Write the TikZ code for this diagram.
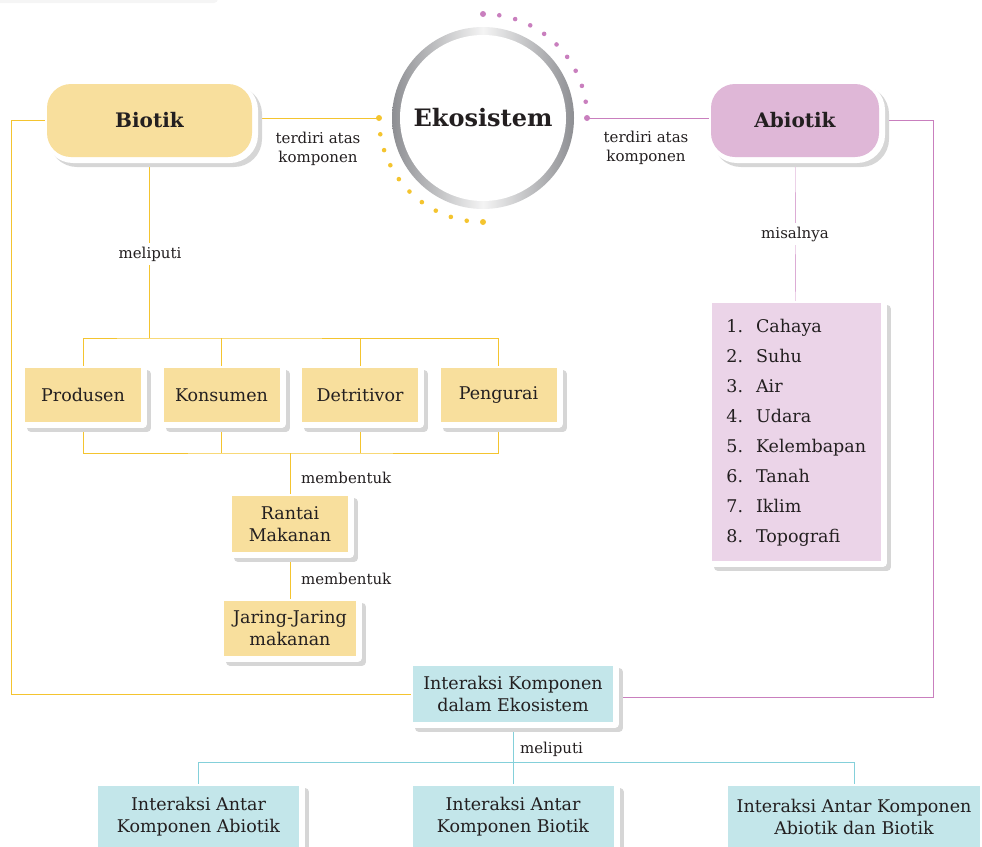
\documentclass[tikz,border=0pt]{standalone}
\usepackage{fontspec}
\setmainfont{DejaVu Serif}
\usetikzlibrary{calc,backgrounds}

\definecolor{ink}{HTML}{231F20}
\definecolor{bioFill}{HTML}{F8DF9D}
\definecolor{bioLine}{HTML}{F4C42F}
\definecolor{abioFill}{HTML}{DFB7D7}
\definecolor{listFill}{HTML}{EBD4E8}
\definecolor{abioLine}{HTML}{C97FBE}
\definecolor{intFill}{HTML}{C3E6EA}
\definecolor{intLine}{HTML}{84D0DA}
\definecolor{cardShade}{HTML}{D6D6D6}
\definecolor{ringDark}{HTML}{8E8F93}
\definecolor{ringLight}{HTML}{F4F4F4}

\begin{document}
\begin{tikzpicture}[x=1pt, y=-1pt, line width=1.5pt, line cap=round, line join=round,
  card/.style={preaction={draw=cardShade, fill=cardShade, line width=8pt, transform canvas={xshift=6pt, yshift=-6pt}},
               preaction={draw=white, fill=white, line width=8pt, transform canvas={xshift=2pt, yshift=-2pt}}},
  head/.style={card, rounded corners=24pt, minimum height=73pt, text=ink, font=\fontsize{20}{24}\selectfont\bfseries},
  box/.style={card, minimum height=54pt, inner sep=2pt, align=center, text=ink, font=\fontsize{17.5}{22}\selectfont},
  lbl/.style={align=center, text=ink, font=\fontsize{15}{19}\selectfont}]

  %% ════ 顶部残影 ════
  \fill[black!4, rounded corners=4pt] (-10,-10) rectangle (218,3);

  %% ════ 中心圆环 + 点 ════
  \coordinate (ctr) at (483,118);
  \shade[left color=ringDark, right color=ringDark, middle color=ringLight] (ctr) circle (91);
  \node[circle, fill=white, minimum size=166pt, inner sep=0pt, text=ink,
        font=\fontsize{24}{28}\selectfont\bfseries] (eko) at (ctr) {Ekosistem};
  \foreach \a in {99,108,...,171} \fill[bioLine] ($(ctr)+(\a:104)$) circle (2.3);
  \foreach \a in {279,288,...,351} \fill[abioLine] ($(ctr)+(\a:104)$) circle (2.3);
  \coordinate (ydot) at ($(ctr)+(180:104)$);
  \coordinate (pdot) at ($(ctr)+(0:104)$);
  \fill[bioLine] (ydot) circle (3) ($(ctr)+(90:104)$) circle (3);
  \fill[abioLine] (pdot) circle (3) ($(ctr)+(270:104)$) circle (3);

  %% ════ 组件框 ════
  \node[head, fill=bioFill, minimum width=205pt] (bio) at (149.5,120.5) {Biotik};     % box(47,84,205,73)
  \node[head, fill=abioFill, minimum width=168pt] (abio) at (795,120.5) {Abiotik};    % box(711,84,168,73)

  \node[box, fill=bioFill, minimum width=116pt] (prod) at (83,395) {Produsen};
  \node[box, fill=bioFill, minimum width=116pt] (kons) at (221.5,395) {Konsumen};
  \node[box, fill=bioFill, minimum width=116pt] (detr) at (360,395) {Detritivor};
  \node[box, fill=bioFill, minimum width=116pt] (peng) at (498.5,395) {Pengurai};
  \node[box, fill=bioFill, minimum width=116pt, minimum height=56pt] (rant) at (290,524) {Rantai\\Makanan};
  \node[box, fill=bioFill, minimum width=132pt, minimum height=55pt] (jar) at (290,628) {Jaring-Jaring\\makanan};

  \node[card, fill=listFill, anchor=north west, minimum width=169pt, inner ysep=9pt, text=ink,
        font=\fontsize{17.5}{21}\selectfont] (alist) at (711,302)
       {\renewcommand{\arraystretch}{1.43}%
        \begin{tabular}{@{}l@{\hspace{13pt}}l@{}}
          1. & Cahaya\\ 2. & Suhu\\ 3. & Air\\ 4. & Udara\\
          5. & Kelembapan\\ 6. & Tanah\\ 7. & Iklim\\ 8. & Topografi
        \end{tabular}};

  \node[box, fill=intFill, minimum width=200pt, minimum height=56pt] (inter) at (513,694) {Interaksi Komponen\\dalam Ekosistem};
  \node[box, fill=intFill, minimum width=201pt, minimum height=62pt] (bAb) at (198.5,817) {Interaksi Antar\\Komponen Abiotik};
  \node[box, fill=intFill, minimum width=201pt, minimum height=62pt] (bBi) at (513,817) {Interaksi Antar\\Komponen Biotik};
  \node[box, fill=intFill, minimum width=252pt, minimum height=62pt] (bAB) at (854,817) {Interaksi Antar Komponen\\Abiotik dan Biotik};

  %% ════ 标签 ════
  \node[lbl] (tBio) at (318,149) {terdiri atas\\komponen};
  \node[lbl] (tAbio) at (646,148) {terdiri atas\\komponen};
  \node[lbl, fill=white] (mBio) at (150,254) {meliputi};
  \node[lbl, fill=white] (misal) at (795,234) {misalnya};
  \node[lbl, anchor=west] (mb1) at (297,478) {membentuk};
  \node[lbl, anchor=west] (mb2) at (297,579) {membentuk};
  \node[lbl, anchor=west] (mInt) at (516,749) {meliputi};

  %% ════ 连线（背景层）════
  \coordinate (bj) at (149.5,338);
  \coordinate (mj) at (290,453);
  \coordinate (lc) at (11,694);
  \coordinate (rc) at (933,697);
  \coordinate (cj) at (513,762);
  \begin{scope}[on background layer]
    \draw[bioLine] (bio |- ydot) -- (ydot);
    \draw[bioLine] (bio) -- (bj);
    \draw[bioLine] (prod) |- (bj) -| (peng);
    \draw[bioLine] (kons) -- (kons |- bj);
    \draw[bioLine] (detr) -- (detr |- bj);
    \draw[bioLine] (prod) |- (mj) -| (peng);
    \draw[bioLine] (kons) -- (kons |- mj);
    \draw[bioLine] (detr) -- (detr |- mj);
    \draw[bioLine] (mj) -- (rant);
    \draw[bioLine] (rant) -- (jar);
    \draw[bioLine] (bio) -| (lc) -- (inter);
    \draw[abioLine] (abio |- pdot) -- (pdot);
    \draw[abioLine] (abio) -- (alist);
    \draw[abioLine] (abio) -| (rc) -- (inter |- rc);
    \draw[intLine] (inter) -- (bBi);
    \draw[intLine] (bAb) |- (cj) -| (bAB);
  \end{scope}

  \pgfresetboundingbox
  \path[use as bounding box] (0,0) rectangle (982,846);
\end{tikzpicture}
\end{document}
